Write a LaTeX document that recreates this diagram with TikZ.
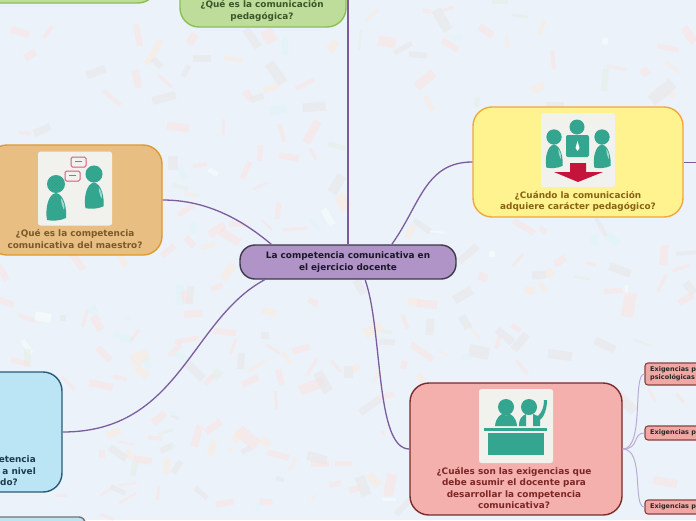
\documentclass[tikz,border=0pt]{standalone}
\usepackage{fontspec}
\setmainfont{DejaVu Sans}
\definecolor{paper}{HTML}{EBF2FA}
\definecolor{cp}{HTML}{FAE3E1}
\definecolor{cg}{HTML}{E9E7E8}
\definecolor{cw}{HTML}{F9FCFD}
\definecolor{cm}{HTML}{E0F5F5}
\definecolor{co}{HTML}{FCEADC}
\definecolor{cl}{HTML}{E5F0E4}
\definecolor{linkc}{HTML}{7D5C9C}
\definecolor{sublinkc}{HTML}{BBABD6}
\definecolor{tealc}{HTML}{34A58E}
\definecolor{iconbg}{HTML}{F1F1EE}
\definecolor{bubblec}{HTML}{D9587A}
\definecolor{redc}{HTML}{C4143C}
\definecolor{greenfill}{HTML}{BEDD9B}
\definecolor{greenline}{HTML}{8CBF53}
\definecolor{greentext}{HTML}{3C562A}
\definecolor{orangefill}{HTML}{E8BE82}
\definecolor{orangeline}{HTML}{E09A2C}
\definecolor{orangetext}{HTML}{7A5A2A}
\definecolor{yellowfill}{HTML}{FFF390}
\definecolor{yellowline}{HTML}{F2A63C}
\definecolor{yellowtext}{HTML}{8A6212}
\definecolor{pinkfill}{HTML}{F3B0AD}
\definecolor{pinkline}{HTML}{7E2A2A}
\definecolor{pinktext}{HTML}{7E2626}
\definecolor{bluefill}{HTML}{BBE5F4}
\definecolor{blueline}{HTML}{285A78}
\definecolor{bluetext}{HTML}{1D3B4D}
\definecolor{lilacfill}{HTML}{B094C7}
\definecolor{lilacline}{HTML}{3E384A}
\definecolor{lilactext}{HTML}{1C1628}
\definecolor{subfill}{HTML}{EFA8A4}
\definecolor{subline}{HTML}{8A4040}
\newcommand{\personicon}[3]{%
  \begin{scope}[shift={(#1,#2)}, scale=#3]
    \fill[tealc] (0,0) circle (9);
    \fill[tealc] (-9,36) .. controls (-11,25) and (-8,10) .. (0,9) .. controls (8,10) and (11,25) .. (10,34) .. controls (4,37) and (-4,37) .. (-9,36) -- cycle;
    \fill[white, opacity=.55] (5,14) .. controls (8,18) and (9,22) .. (8,26) .. controls (6,22) and (5,18) .. (5,14) -- cycle;
  \end{scope}}
\begin{document}
\begin{tikzpicture}[
  x=1pt, y=-1pt,
  topic/.style={draw, line width=1.4pt, rounded corners=19pt, inner sep=0pt},
  subtopic/.style={draw=subline, fill=subfill, line width=1.1pt, rounded corners=3pt, inner sep=0pt, minimum width=100pt},
  title/.style={font=\bfseries\fontsize{8.9}{11.5}\selectfont, align=center, inner sep=0pt},
  smalltitle/.style={font=\bfseries\fontsize{6.5}{8}\selectfont, align=left, anchor=west, inner sep=0pt, text=black!85},
  iconbox/.style={fill=iconbg, rounded corners=2.5pt, inner sep=0pt, minimum width=74pt, minimum height=74pt},
  link/.style={linkc, line width=1.3pt},
  sublink/.style={sublinkc, line width=1pt}
]
\path[use as bounding box, clip] (0,0) rectangle (696,520);
\fill[paper] (0,0) rectangle (696,520);

% confetti: x/y/width/height/angle/colour
\foreach \x/\y/\w/\h/\a/\c in {
  20/32/19/7/-15/cp, 48/32/14/4/55/cp, 30/55/12/7/30/cp, 138/35/22/6/-80/cp, 154/52/28/6/60/co,
  157/63/12/6/-45/cg, 192/39/12/8/55/cp, 202/58/18/7/0/cg, 233/59/18/4/-10/co, 252/38/22/8/-55/cg,
  269/36/14/12/-60/cp, 285/46/18/7/88/cm, 333/46/12/8/50/co, 96/72/20/8/20/cg, 137/79/18/7/-80/cp,
  165/81/18/3/-40/cp, 186/71/12/5/60/cg, 276/73/24/10/-55/cg, 271/88/16/6/20/co, 305/84/20/4/25/cp,
  164/98/24/8/15/cg, 112/98/22/4/-40/cp, 248/95/10/7/-50/cp, 257/98/14/6/20/cg, 278/110/18/9/10/cm,
  314/107/23/9/5/cg, 178/127/22/8/-8/cp, 42/130/18/7/25/cg, 25/133/12/3/-5/cp, 223/127/16/3/90/cp,
  282/133/18/4/-75/cp, 312/132/24/8/60/cp, 337/146/18/5/-15/cl, 289/157/20/6/-10/cp, 313/154/12/3/-60/cp,
  260/153/16/5/85/cp, 173/163/14/10/90/cg, 183/173/12/6/-60/cm, 200/165/14/4/10/cp, 213/172/10/5/-30/cw,
  246/170/18/5/65/cp, 337/184/20/10/60/cg, 260/186/16/2/25/cp, 180/187/16/4/-15/cl, 192/195/14/3/-10/co,
  186/210/18/5/30/cp, 278/211/16/5/85/cp, 343/202/16/12/-60/co, 328/217/18/7/-60/cw, 315/225/16/3/-45/cm,
  217/230/18/8/30/cp, 230/237/22/8/-30/cp, 237/224/16/6/0/cp, 193/228/10/6/80/cm, 267/225/14/2/-45/cp,
  295/229/24/3/5/cp, 190/242/12/6/-50/cp, 208/246/14/4/15/co, 168/251/16/6/40/cp,
  78/262/18/7/-55/cp, 123/261/12/6/-60/co, 3/273/16/6/-60/cp, 5/302/18/6/-20/cp, 27/318/18/4/-20/cp,
  43/317/16/9/-10/cw, 63/318/6/6/0/cg, 85/318/18/3/75/cp, 97/323/16/8/-60/cp, 93/310/8/6/30/cm,
  127/318/6/5/30/cm, 123/337/20/7/-20/cm, 135/335/14/3/50/cp, 104/354/18/6/-45/cp, 27/347/16/5/-55/cw,
  27/358/18/7/90/cl, 20/362/18/5/-15/cp, 228/272/18/8/55/co, 217/287/12/5/20/cp, 180/295/20/8/88/cm,
  190/295/18/7/85/cg, 185/297/12/7/-70/cp, 193/314/18/7/5/cp, 225/332/22/6/-5/cp, 140/358/18/12/20/co,
  147/363/12/6/-60/cm, 142/372/14/8/-40/co,
  101/385/24/7/-12/cp, 68/383/18/3/-45/cp, 120/378/14/4/-10/cp, 187/340/24/5/10/cp, 175/350/16/5/45/cp,
  182/357/16/6/-25/cm, 195/371/22/8/-45/cg, 217/374/10/8/50/cl, 209/380/12/5/45/cp, 233/347/16/3/70/cp,
  241/361/16/7/85/cg, 250/381/18/6/25/cp, 257/366/18/3/30/co, 269/312/14/6/-15/co, 313/302/10/6/-30/cp,
  265/335/8/7/0/cg, 273/349/16/3/-30/cp, 287/358/14/4/-50/co, 301/349/18/6/15/cp, 312/367/20/3/60/cp,
  280/377/16/6/-75/cp, 336/366/14/3/-50/cp, 348/372/12/9/90/cg, 356/368/8/6/30/co, 312/386/26/10/20/cp,
  323/382/22/10/-60/cg, 373/330/18/10/25/co, 387/342/16/6/-5/cg, 387/332/10/4/-5/cl, 405/322/14/4/-70/cp,
  360/287/16/8/-60/cg, 376/377/14/3/60/co, 404/365/8/6/80/cp, 386/396/16/5/15/cp, 370/406/24/7/35/cg,
  276/400/18/3/-85/cp, 159/418/16/7/40/cp, 175/417/8/3/-20/cg, 173/413/5/5/0/cm, 213/427/18/7/35/cp,
  197/436/22/7/75/cp, 114/433/14/7/25/co, 155/438/14/4/-5/cp, 166/432/14/3/20/cl, 126/443/16/2/-10/cp,
  118/453/20/7/-35/cg, 102/454/6/8/0/cp, 130/455/12/5/-55/co, 143/460/18/7/-8/cp, 167/448/14/6/25/cg,
  173/446/5/5/0/cm, 167/466/16/6/85/co, 177/467/14/6/55/cg, 134/469/14/6/80/cl, 212/448/16/6/70/co,
  248/438/24/12/-40/cp, 237/436/12/7/60/co, 246/450/10/5/30/cg, 265/442/10/7/-40/co, 231/449/4/4/0/co,
  278/455/22/6/-15/cp, 293/464/14/3/60/co, 317/458/20/9/-15/cg, 320/464/18/6/0/cp, 343/463/17/5/0/cp,
  280/479/8/4/-15/cg, 335/484/12/5/10/cp, 363/486/20/10/-70/cg, 355/489/12/6/15/cp, 374/480/14/8/-50/co,
  390/485/22/10/80/cp, 389/499/14/3/0/cw, 403/507/20/6/45/cg, 201/493/16/5/-40/cg, 118/490/16/5/-25/cg,
  128/484/18/2/8/cp, 128/498/20/2/30/cp, 107/491/16/2/35/cp, 158/493/14/3/85/cp, 225/503/18/6/10/cp,
  266/502/13/6/-5/cp, 258/507/8/4/70/cm, 314/497/8/2/50/co, 61/495/12/3/0/cp, 107/517/14/3/-20/cp,
  383/433/4/4/0/cp,
  442/20/24/10/-60/cg, 448/9/12/3/15/cp, 427/11/8/4/-5/cp, 486/31/16/7/-35/cp, 457/37/10/6/20/cm,
  450/45/18/6/-30/cp, 387/42/18/10/-8/cp, 403/48/20/5/30/cg, 418/55/18/6/-5/cg, 425/80/22/9/40/cp,
  429/103/16/4/-65/co, 507/42/14/3/-80/co, 542/27/14/4/70/co, 553/60/18/4/-85/cp, 605/41/7/6/80/cw,
  668/48/22/5/-10/cp, 689/35/18/8/-55/cp, 673/68/18/3/-35/co, 617/68/20/3/-10/cp, 605/80/22/6/85/cl,
  645/72/8/8/-60/cp, 538/88/13/7/20/co, 662/92/28/12/40/cg, 672/95/6/6/70/co, 477/102/10/5/80/cl,
  555/104/18/5/0/cg, 372/15/16/3/40/co, 360/40/20/2/85/cl, 500/1/16/6/0/cl, 520/16/16/3/-10/cl,
  422/226/20/6/-35/cg, 410/232/14/6/60/co, 437/232/14/2/-5/cw, 468/254/24/7/40/cg, 492/254/6/6/0/cw,
  518/260/16/3/50/cp, 560/261/12/7/30/cp, 524/227/24/6/-30/cp, 543/230/7/5/-30/cp, 601/227/20/4/-60/cg,
  594/240/12/8/90/cm, 613/240/14/8/-40/cm, 591/264/10/3/-15/cp, 620/270/22/8/-20/cg, 539/275/14/8/5/cg,
  550/273/8/8/-10/co, 582/278/16/2/-10/cl, 543/287/10/5/-60/co, 530/290/10/8/0/co, 483/277/9/8/-20/cp,
  463/295/20/9/30/cg, 414/302/8/12/80/co, 427/304/20/8/-5/cp, 613/291/18/5/5/cp, 626/290/10/3/90/cw,
  629/305/24/12/80/cp, 664/255/20/8/85/cp, 686/253/20/4/5/cg, 681/268/18/3/20/cp, 662/283/18/3/65/cp,
  690/288/14/8/-50/cg, 686/299/16/6/30/cp, 430/327/16/8/85/cg, 465/322/14/8/-60/cg, 475/333/16/2/-50/co,
  505/336/20/8/-40/cg, 498/342/14/4/70/cp, 516/328/10/5/-35/cp, 520/342/20/8/50/cg, 605/345/22/8/-25/cg,
  643/343/18/2/-20/cl, 422/352/26/6/-35/cp, 443/353/10/2/-25/co, 479/352/20/12/-10/cg, 466/357/8/6/30/cm,
  560/355/24/9/-8/cg, 522/367/18/3/-50/cp, 665/482/24/8/-10/cp, 626/403/24/10/-45/cg, 652/395/14/3/-60/cp,
  680/398/12/3/-50/cp, 421/378/6/8/30/co}
  \fill[fill=\c, fill opacity=.6, shift={(\x,\y)}, rotate=\a] (-\w/2,-\h/2) rectangle (\w/2,\h/2);

% nodes
\node[topic, draw=greenline, fill=greenfill, minimum width=210pt, minimum height=110pt] (first) at (52,-52) {};
\node[topic, draw=greenline, fill=greenfill, minimum width=166pt, minimum height=110pt] (pedagogica) at (263,-28) {};
\node[topic, draw=orangeline, fill=orangefill, minimum width=174pt, minimum height=110pt] (maestro) at (75,200) {};
\node[topic, draw=yellowline, fill=yellowfill, minimum width=210pt, minimum height=110pt] (cuando) at (578,162) {};
\node[topic, draw=pinkline, fill=pinkfill, minimum width=212pt, minimum height=132pt] (exigencias) at (516,449) {};
\node[topic, draw=blueline, fill=bluefill, minimum width=212pt, minimum height=120pt] (nivel) at (-44,432) {};
\node[topic, draw=black!55, fill=bluefill, rounded corners=6pt, minimum width=200pt, minimum height=100pt] (last) at (-15,567) {};
\node[topic, draw=lilacline, fill=lilacfill, rounded corners=15pt, minimum width=216pt, minimum height=34pt, font=\bfseries\fontsize{8.9}{11.5}\selectfont, align=center, text=lilactext] (central) at (348,262) {La competencia comunicativa en\\el ejercicio docente};

\node[subtopic, minimum height=22pt] (psico) at (695,374) {};
\node[subtopic, minimum height=14pt] (exigdos) at (695,433) {};
\node[subtopic, minimum height=14pt] (exigtres) at (695,507) {};
\node[smalltitle] (psicotxt) at (650,374) {Exigencias p\\psicológicas};
\node[smalltitle] (exigdostxt) at (650,433) {Exigencias p};
\node[smalltitle] (exigtrestxt) at (650,507) {Exigencias p};

\coordinate (arriba) at (348,0);
\coordinate (derecha) at (696,162);

% connectors
\draw[link, line width=1.7pt] (central.north) -- (arriba);
\draw[link] (central.167.5) .. controls (240,218) and (205,200) .. (maestro.east);
\draw[link] (central.22) .. controls (420,205) and (425,162) .. (cuando.west);
\draw[link] (central.192.5) .. controls (190,320) and (180,432) .. (nivel.east);
\draw[link] (central.-46.7) .. controls (383,330) and (375,449) .. (exigencias.west);
\draw[link, line width=.8pt] (cuando.east) -- (derecha);
\draw[sublink] (exigencias.east) .. controls (645,449) and (632,374) .. (psico.west);
\draw[sublink] (exigencias.east) .. controls (640,449) and (632,433) .. (exigdos.west);
\draw[sublink] (exigencias.east) .. controls (645,449) and (632,507) .. (exigtres.west);

% titles
\node[title, text=greentext] (pedagogicatxt) at (262,11) {¿Qué es la comunicación\\pedagógica?};
\node[title, text=orangetext] (maestrotxt) at (75,239) {¿Qué es la competencia\\comunicativa del maestro?};
\node[title, text=yellowtext] (cuandotxt) at (578,201.5) {¿Cuándo la comunicación\\adquiere carácter pedagógico?};
\node[title, text=pinktext] (exigenciastxt) at (514,488) {¿Cuáles son las exigencias que\\debe asumir el docente para\\desarrollar la competencia\\comunicativa?};
\node[title, align=right, anchor=east, text=bluetext] (niveltxt) at (36,471) {etencia\\a nivel\\do?\hspace*{18pt}};

% icons
\node[iconbox] (maestroicon) at (75,188.5) {};
\personicon{56}{184}{1}
\personicon{94}{174}{.95}
\draw[bubblec, line width=1pt, fill=iconbg, rounded corners=1.5pt] (71,157) rectangle (86,167);
\draw[bubblec, line width=1pt, fill=iconbg, rounded corners=1.5pt] (65,171) rectangle (80,181);
\draw[bubblec, line width=1pt] (75,161.5) -- (82,161.5) (69,175.5) -- (76,175.5);

\node[iconbox] (cuandoicon) at (578,150) {};
\personicon{554}{137}{.85}
\personicon{602}{137}{.85}
\fill[tealc] (577,127) circle (7.5);
\fill[tealc, rounded corners=2pt] (566,135) rectangle (589,157);
\fill[white] (577.5,141) -- (579.5,148) -- (577.5,151) -- (575.5,148) -- cycle;
\fill[redc] (570,163) -- (586,163) -- (586,172) -- (603,172) -- (578,182) -- (554,172) -- (570,172) -- cycle;

\node[iconbox] (exigenciasicon) at (516,426) {};
\fill[tealc] (506,407) circle (8);
\fill[tealc] (495,426) .. controls (496,417) and (500,415) .. (504,413) -- (506,416) -- (508,413) .. controls (512,415) and (516,417) .. (517,426) -- cycle;
\fill[tealc] (529,407) circle (8);
\fill[tealc] (519,426) .. controls (519,418) and (522,416) .. (526,414) -- (526,426) -- cycle;
\fill[tealc] (533,426) -- (533,414) -- (538,416) .. controls (542,412) and (544,407) .. (544,400) -- (547,400) .. controls (547,409) and (544,417) .. (540,420) -- (540,426) -- cycle;
\fill[tealc] (484,428) rectangle (547,430.5);
\fill[tealc] (488,433) rectangle (544,455);
\end{tikzpicture}
\end{document}
